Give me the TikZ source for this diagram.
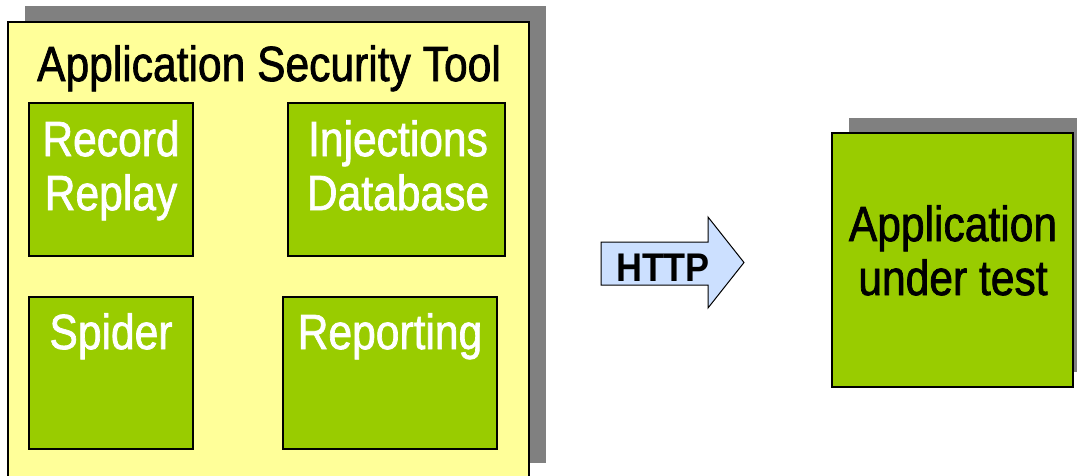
\documentclass[tikz,border=0pt]{standalone}
\usepackage{fontspec}
\setmainfont[FakeStretch=0.9]{Liberation Sans}
\newfontfamily\narrowfont[FakeStretch=0.86,FakeBold=1.4]{Liberation Sans}
\definecolor{shadowgray}{HTML}{808080}
\definecolor{toolyellow}{HTML}{FFFF99}
\definecolor{boxgreen}{HTML}{99CC00}
\definecolor{arrowblue}{HTML}{CCE0FF}
\begin{document}
\begin{tikzpicture}[x=1pt,y=-1pt,
  shadowfill/.style={fill=shadowgray, draw=none},
  toolbox/.style={draw=black, line width=1.6pt, fill=toolyellow, inner sep=0pt, outer sep=0pt},
  gbox/.style={draw=black, line width=2.2pt, fill=boxgreen, inner sep=0pt, outer sep=0pt},
  bigtext/.style={inner sep=0pt, align=center, font=\narrowfont\fontsize{49.5}{54}\selectfont},
  whitetext/.style={bigtext, text=white},
  blacktext/.style={bigtext, text=black},
  arrowshape/.style={draw=black, line width=1pt, fill=arrowblue, line join=miter}]
\useasboundingbox (0,0) rectangle (1077,476);
% Tool box with shadow
\fill[shadowfill] (25,6) rectangle (546,463);
\node[toolbox, minimum width=521pt, minimum height=468pt] (tool) at (268.5,256) {};
\node[blacktext, anchor=north] (title) at (269,45) {Application Security Tool};
% inner boxes
\node[gbox, minimum width=164pt, minimum height=153pt] (rec) at (111,179.5) {};
\node[gbox, minimum width=217pt, minimum height=153pt] (inj) at (396.5,179.5) {};
\node[gbox, minimum width=164pt, minimum height=152pt] (spi) at (111,373) {};
\node[gbox, minimum width=214pt, minimum height=152pt] (rep) at (390,373) {};
\node[whitetext, anchor=north] (rect) at (111,120) {Record\\Replay};
\node[whitetext, anchor=north] (injt) at (398,120) {Injections\\Database};
\node[whitetext, anchor=north] (spit) at (111,313) {Spider};
\node[whitetext, anchor=north] (rept) at (390,313) {Reporting};
% HTTP arrow
\coordinate (a1) at (601,242);
\coordinate (a2) at (708,242);
\coordinate (a3) at (708,217);
\coordinate (tip) at (744,262.5);
\coordinate (a5) at (708,308);
\coordinate (a6) at (708,285);
\coordinate (a7) at (601,285);
\draw[arrowshape] (a1) -- (a2) -- (a3) -- (tip) -- (a5) -- (a6) -- (a7) -- cycle;
\node[inner sep=0pt, anchor=north, font=\fontsize{40}{44}\selectfont\bfseries] (http) at (663,253.5) {HTTP};
% Application under test
\fill[shadowfill] (849,118) rectangle (1090,372);
\node[gbox, minimum width=241pt, minimum height=254pt] (app) at (952.5,260) {};
\node[blacktext, anchor=north] (appt) at (953,205) {Application\\under test};
\end{tikzpicture}
\end{document}
